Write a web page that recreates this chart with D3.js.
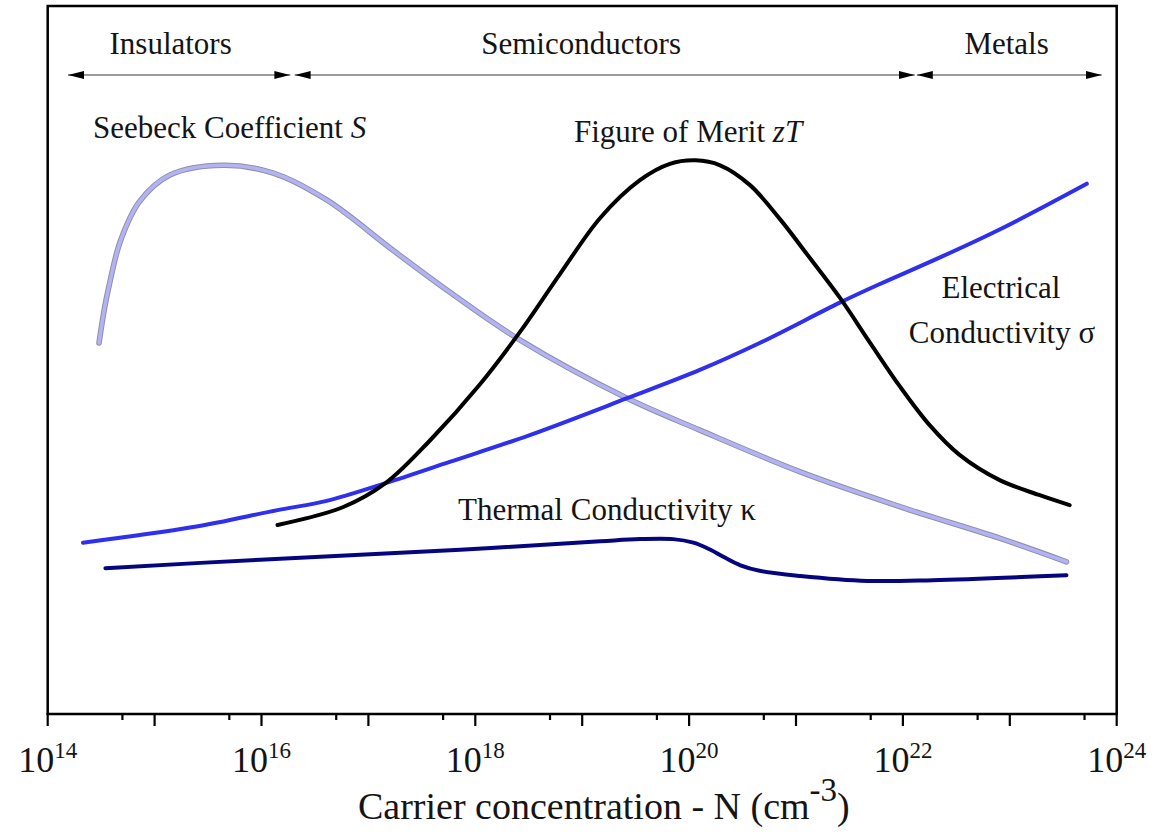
<!DOCTYPE html>
<html>
<head>
<meta charset="utf-8">
<script src="https://cdn.jsdelivr.net/npm/d3@7"></script>
<style>
  body { margin: 0; background: #fff; }
  svg { display: block; }
  text { font-family: "Liberation Serif", "Times New Roman", serif; fill: #141414; }
</style>
</head>
<body>
<svg id="chart" width="1162" height="835"></svg>
<script>
// Exponents of carrier concentration (log10 N, N in cm^-3) and relative magnitudes (arb. units, 0-100)
const seebeckLogN = [14.48, 14.53, 14.58, 14.68, 14.86, 15.14, 15.64, 16.11, 16.61, 17.23, 17.76, 18.42, 19.42, 20.10, 21.04, 21.97, 22.91, 23.53];
const seebeckVal  = [52.4, 57.2, 60.9, 66.8, 72.4, 76.1, 77.5, 76.4, 72.6, 65.5, 59.6, 52.8, 44.6, 40.1, 34.2, 29.3, 24.8, 21.5];

const meritLogN = [16.15, 16.76, 17.16, 17.58, 18.04, 18.42, 18.79, 19.17, 19.54, 19.82, 20.06, 20.29, 20.57, 20.85, 21.13, 21.41, 21.69, 21.97, 22.25, 22.53, 22.91, 23.28, 23.56];
const meritVal  = [26.7, 29.2, 32.6, 38.7, 46.5, 54.0, 62.1, 70.1, 75.4, 77.7, 78.2, 77.5, 74.7, 69.9, 64.4, 58.8, 52.5, 46.3, 40.8, 36.6, 33.0, 30.9, 29.5];

const sigmaLogN = [14.33, 15.36, 16.15, 16.61, 17.16, 17.76, 18.51, 19.42, 20.10, 20.66, 21.41, 21.78, 22.29, 22.90, 23.72];
const sigmaVal  = [24.2, 26.4, 28.8, 30.1, 32.6, 35.6, 39.4, 44.6, 48.6, 52.4, 58.1, 60.7, 64.1, 68.4, 74.9];

const kappaLogN = [14.54, 15.99, 17.86, 19.17, 19.54, 19.85, 20.04, 20.20, 20.32, 20.48, 20.67, 21.04, 21.67, 22.28, 23.53];
const kappaVal  = [20.6, 21.8, 23.2, 24.4, 24.7, 24.7, 24.2, 23.2, 22.2, 21.0, 20.2, 19.5, 18.8, 18.9, 19.6];

// Axis ticks
const decades = [14, 15, 16, 17, 18, 19, 20, 21, 22, 23, 24];
const labelledDecades = [14, 16, 18, 20, 22, 24];
const halfDecades = [14, 15, 16, 17, 18, 19, 20, 21, 22, 23];   // 5 x 10^n

// Material classes along the concentration axis
const regionNames = ["Insulators", "Semiconductors", "Metals"];
const regionFrom  = [14.19, 16.31, 22.13];
const regionTo    = [16.27, 22.11, 23.86];
const regionLabelAt = [15.15, 18.99, 22.97];

const plotLeft = 47.7, plotRight = 1116.7, plotTop = 6, plotBottom = 714;

const svg = d3.select("#chart");
const x = d3.scaleLog().domain([1e14, 1e24]).range([plotLeft, plotRight]);
const y = d3.scaleLinear().domain([0, 100]).range([plotBottom, plotTop]);
const X = e => x(Math.pow(10, e));

const defs = svg.append("defs");
["arrowEnd", "arrowStart"].forEach((id, i) => {
  defs.append("marker")
    .attr("id", id)
    .attr("viewBox", "0 0 16 10")
    .attr("refX", i === 0 ? 16 : 0).attr("refY", 5)
    .attr("markerWidth", 16).attr("markerHeight", 10)
    .attr("markerUnits", "userSpaceOnUse")
    .attr("orient", "auto")
    .append("path")
    .attr("d", i === 0 ? "M0,1 L16,5 L0,9 Z" : "M16,1 L0,5 L16,9 Z")
    .attr("fill", "#000");
});

// Frame (left, top, right)
svg.append("path")
  .attr("d", `M${plotLeft},${plotBottom} V${plotTop} H${plotRight} V${plotBottom}`)
  .attr("fill", "none").attr("stroke", "#000").attr("stroke-width", 2.5);

// Bottom axis
const axisG = svg.append("g").attr("transform", `translate(0,${plotBottom})`);
axisG.append("line").attr("x1", plotLeft - 1.2).attr("x2", plotRight + 1.2)
  .attr("stroke", "#000").attr("stroke-width", 2.5);
axisG.selectAll("line.major").data(decades).join("line")
  .attr("class", "major")
  .attr("x1", d => X(d)).attr("x2", d => X(d))
  .attr("y1", 0).attr("y2", 12)
  .attr("stroke", "#000").attr("stroke-width", 2.2);
axisG.selectAll("line.minor").data(halfDecades).join("line")
  .attr("class", "minor")
  .attr("x1", d => x(5 * Math.pow(10, d))).attr("x2", d => x(5 * Math.pow(10, d)))
  .attr("y1", 0).attr("y2", 6)
  .attr("stroke", "#000").attr("stroke-width", 2.2);

const tickText = svg.selectAll("text.tick").data(labelledDecades).join("text")
  .attr("class", "tick")
  .attr("x", d => X(d)).attr("y", 772)
  .attr("text-anchor", "middle")
  .style("font-size", "36px");
tickText.append("tspan").text("10");
tickText.append("tspan").attr("dy", -14).style("font-size", "23px").text(d => d);

// Axis title
const title = svg.append("text")
  .attr("x", 358).attr("y", 819)
  .style("font-size", "38px");
title.append("tspan").text("Carrier concentration - N (cm");
title.append("tspan").attr("dy", -18).style("font-size", "33px").text("-3");
title.append("tspan").attr("dy", 18).text(")");

// Material-class arrows and names
const arrowY = 75;
regionNames.forEach((name, i) => {
  svg.append("line")
    .attr("x1", X(regionFrom[i])).attr("x2", X(regionTo[i]))
    .attr("y1", arrowY).attr("y2", arrowY)
    .attr("stroke", "#7a7a7a").attr("stroke-width", 1.6)
    .attr("marker-start", "url(#arrowStart)")
    .attr("marker-end", "url(#arrowEnd)");
  svg.append("text")
    .attr("x", X(regionLabelAt[i])).attr("y", 54)
    .attr("text-anchor", "middle")
    .style("font-size", "31px")
    .text(name);
});

// Curves
const line = d3.line()
  .x(d => X(d[0])).y(d => y(d[1]))
  .curve(d3.curveCatmullRom.alpha(0.5));
const zip = (a, b) => a.map((v, i) => [v, b[i]]);

// Seebeck: pale line with a grey edge
svg.append("path").datum(zip(seebeckLogN, seebeckVal))
  .attr("d", line).attr("fill", "none")
  .attr("stroke", "#8f8fa8").attr("stroke-width", 5.6).attr("stroke-linecap", "round");
svg.append("path").datum(zip(seebeckLogN, seebeckVal))
  .attr("d", line).attr("fill", "none")
  .attr("stroke", "#b3b3f3").attr("stroke-width", 3.6).attr("stroke-linecap", "round");

svg.append("path").datum(zip(kappaLogN, kappaVal))
  .attr("d", line).attr("fill", "none")
  .attr("stroke", "#050580").attr("stroke-width", 4).attr("stroke-linecap", "round");

svg.append("path").datum(zip(sigmaLogN, sigmaVal))
  .attr("d", line).attr("fill", "none")
  .attr("stroke", "#2f2fee").attr("stroke-width", 4).attr("stroke-linecap", "round");

svg.append("path").datum(zip(meritLogN, meritVal))
  .attr("d", line).attr("fill", "none")
  .attr("stroke", "#000").attr("stroke-width", 4).attr("stroke-linecap", "round");

// Curve labels
const lab = (e, v, anchor, parts) => {
  const t = svg.append("text")
    .attr("x", X(e)).attr("y", y(v))
    .attr("text-anchor", anchor)
    .style("font-size", "31px");
  parts.forEach(p => {
    const s = t.append("tspan").text(p[0]);
    if (p[1]) s.style("font-style", "italic");
  });
};
lab(14.424, 81.36, "start", [["Seebeck Coefficient "], ["S", true]]);
lab(19.99, 80.79, "middle", [["Figure of Merit "], ["zT", true]]);
lab(22.917, 58.76, "middle", [["Electrical"]]);
lab(22.927, 52.40, "middle", [["Conductivity σ"]]);
lab(17.838, 27.40, "start", [["Thermal Conductivity κ"]]);
</script>
</body>
</html>
